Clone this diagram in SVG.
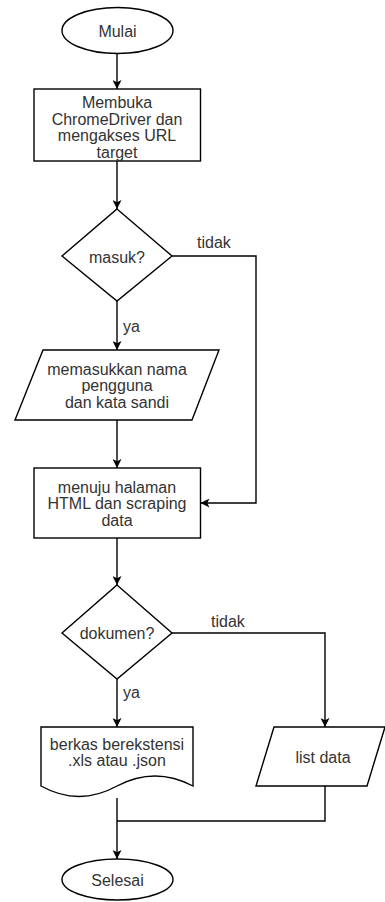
<svg xmlns="http://www.w3.org/2000/svg" width="385" height="902" viewBox="0 0 385 902">
  <style>
    .shape { fill: #ffffff; stroke: #000000; stroke-width: 1.4; }
    .edge { fill: none; stroke: #000000; stroke-width: 1.4; }
    text { font-family: "Liberation Sans", Arial, sans-serif; font-size: 16px; fill: #333333; }
    .c { text-anchor: middle; }
  </style>
  <defs>
    <marker id="arrow" viewBox="0 0 10 10" refX="10" refY="5" markerWidth="9" markerHeight="9" markerUnits="userSpaceOnUse" orient="auto">
      <path d="M0,0 L10,5 L0,10 L2.5,5 Z" fill="#000000"/>
    </marker>
  </defs>

  <g id="connectors">
    <line class="edge" x1="117" y1="53.5" x2="117" y2="89" marker-end="url(#arrow)"/>
    <line class="edge" x1="117" y1="161" x2="117" y2="209" marker-end="url(#arrow)"/>
    <polyline class="edge" points="172,256 256,256 256,503 200.5,503" marker-end="url(#arrow)"/>
    <line class="edge" x1="117" y1="301" x2="117" y2="350" marker-end="url(#arrow)"/>
    <line class="edge" x1="117" y1="420" x2="117" y2="468" marker-end="url(#arrow)"/>
    <line class="edge" x1="117" y1="538" x2="117" y2="585" marker-end="url(#arrow)"/>
    <polyline class="edge" points="172,633 325,633 325,727" marker-end="url(#arrow)"/>
    <line class="edge" x1="117" y1="679" x2="117" y2="727" marker-end="url(#arrow)"/>
    <line class="edge" x1="117" y1="798" x2="117" y2="859" marker-end="url(#arrow)"/>
    <polyline class="edge" points="325,786 325,821 117,821"/>
    <text x="197" y="248">tidak</text>
    <text x="123" y="332">ya</text>
    <text x="211" y="627">tidak</text>
    <text x="123" y="698">ya</text>
  </g>

  <g id="start">
    <ellipse class="shape" cx="117.5" cy="30.5" rx="55.5" ry="23"/>
    <text class="c" x="117.5" y="37">Mulai</text>
  </g>

  <g id="open-driver">
    <rect class="shape" x="34" y="89" width="166.5" height="72"/>
    <text class="c" x="117" y="108">Membuka</text>
    <text class="c" x="117" y="124.5">ChromeDriver dan</text>
    <text class="c" x="117" y="141">mengakses URL</text>
    <text class="c" x="117" y="157.5">target</text>
  </g>

  <g id="login-check">
    <polygon class="shape" points="117,209 172,256 117,301 62,256"/>
    <text class="c" x="117" y="262.5">masuk?</text>
  </g>

  <g id="credentials">
    <polygon class="shape" points="43,350 219,350 192,420 15,420"/>
    <text class="c" x="117" y="374.5">memasukkan nama</text>
    <text class="c" x="117" y="391">pengguna</text>
    <text class="c" x="117" y="407.5">dan kata sandi</text>
  </g>

  <g id="scrape">
    <rect class="shape" x="34" y="468" width="166.5" height="70"/>
    <text class="c" x="117" y="492.5">menuju halaman</text>
    <text class="c" x="117" y="509">HTML dan scraping</text>
    <text class="c" x="117" y="525.5">data</text>
  </g>

  <g id="document-check">
    <polygon class="shape" points="117,585 172,633 117,679 62,633"/>
    <text class="c" x="117" y="638.5">dokumen?</text>
  </g>

  <g id="file-output">
    <path class="shape" d="M41,727 H193 V786 Q155,766 117,786 Q79,807 41,786 Z"/>
    <text class="c" x="117" y="749.5">berkas berekstensi</text>
    <text class="c" x="117" y="766">.xls atau .json</text>
  </g>

  <g id="list-output">
    <polygon class="shape" points="274,727 385,727 367,786 256,786"/>
    <text class="c" x="323" y="763">list data</text>
  </g>

  <g id="end">
    <ellipse class="shape" cx="117.5" cy="879.5" rx="55.5" ry="20.5"/>
    <text class="c" x="117.5" y="885.5">Selesai</text>
  </g>
</svg>
